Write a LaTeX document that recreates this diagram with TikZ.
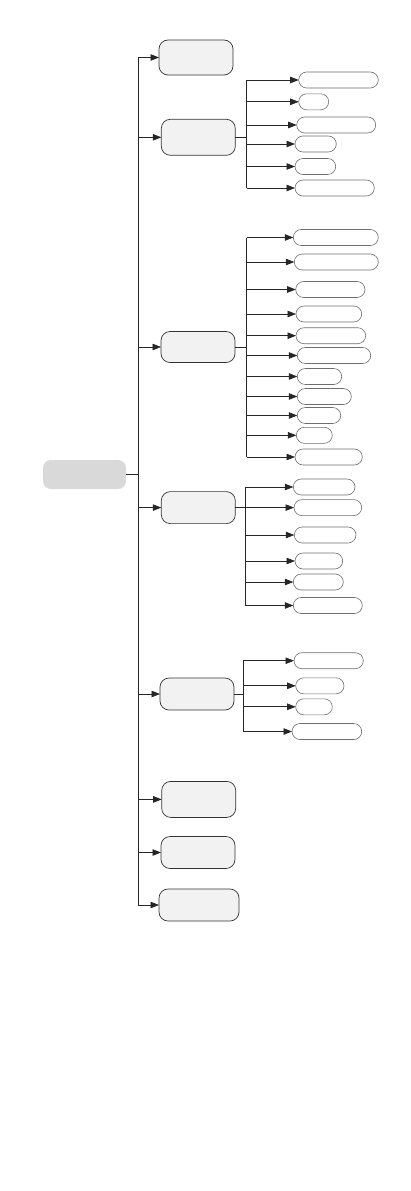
\documentclass[tikz,border=0pt]{standalone}
\usepackage{xcolor}
\usepackage{tikz}
\usetikzlibrary{arrows.meta,positioning,calc}
\definecolor{RootGray}{HTML}{D9D9D9}
\definecolor{BoxFill}{HTML}{F2F2F2}
\definecolor{Edge}{HTML}{333333}
\definecolor{LeafEdge}{HTML}{6E6E6E}

\begin{document}
\begin{tikzpicture}[x=1pt,y=-1pt,
    root/.style={fill=RootGray,rounded corners=8pt,minimum width=83pt,minimum height=29pt,inner sep=0pt,outer sep=0pt},
    b/.style={draw=Edge,fill=BoxFill,rounded corners=9pt,minimum width=74pt,minimum height=32pt,inner sep=0pt,outer sep=0pt,line width=0.7pt},
    leaf/.style={draw=LeafEdge,rounded corners=8pt,anchor=west,minimum height=16pt,inner sep=0pt,outer sep=0pt,line width=0.6pt},
    ln/.style={draw=black!85,line width=0.7pt},
    a/.style={ln,-{Triangle[length=8.5pt,width=6.5pt]}}]
  \useasboundingbox (0,0) rectangle (411,1191);
  \node[root] (root) at (84.5,474.5) {};
  % first level
  \node[b,minimum height=35pt] (b1) at (196,57.5) {};
  \node[b,minimum height=36pt] (b2) at (198.3,137.3) {};
  \node[b,minimum height=31pt] (b3) at (198,347) {};
  \node[b] (b4) at (198.3,507.6) {};
  \node[b] (b5) at (197,694) {};
  \node[b,minimum height=36pt] (b6) at (198.7,799.4) {};
  \node[b] (b7) at (198,852.5) {};
  \node[b,minimum width=80pt] (b8) at (199,905) {};
  \coordinate (trunk) at (138,0);
  \draw[ln] (root.east) -- (trunk |- root.east);
  \draw[ln] (trunk |- b1.west) -- (trunk |- b8.west);
  \foreach \n in {1,...,8} \draw[a] (trunk |- b\n.west) -- (b\n.west);
  % second level
  \foreach \x/\y/\w [count=\i] in {298.7/80/79.6, 298.7/101.8/30, 296.7/125/79, 295/144/41.3, 295/166.5/40.7, 295/188/79.3}
    \node[leaf,minimum width=\w pt] (c2-\i) at (\x,\y) {};
  \foreach \x/\y/\w [count=\i] in {293.3/237.5/85, 294.3/262/84, 295.7/289.5/69.3, 296/314/65.7, 296/335.7/69.7, 297.3/355.5/73.4,
      297.3/376.5/44.4, 297.3/396.5/54, 297.3/415.5/43.4, 296.3/435.3/36, 295/457/67.3}
    \node[leaf,minimum width=\w pt] (c3-\i) at (\x,\y) {};
  \foreach \x/\y/\w [count=\i] in {293.3/487/61.7, 294/507.6/67.7, 294.3/535/61.7, 295/561/47.7, 293.3/582/50, 293.3/605.5/69}
    \node[leaf,minimum width=\w pt] (c4-\i) at (\x,\y) {};
  \foreach \x/\y/\w [count=\i] in {294/660.7/69.3, 295.7/685.8/48.3, 295.7/706.8/36.6, 292/731.5/69.7}
    \node[leaf,minimum width=\w pt] (c5-\i) at (\x,\y) {};
  \coordinate (j2) at (246.7,0);
  \coordinate (j3) at (246.7,0);
  \coordinate (j4) at (245,0);
  \coordinate (j5) at (243.3,0);
  \draw[ln] (b2.east) -- (j2 |- b2.east);
  \draw[ln] (j2 |- c2-1.west) -- (j2 |- c2-6.west);
  \foreach \i in {1,...,6} \draw[a] (j2 |- c2-\i.west) -- (c2-\i.west);
  \draw[ln] (b3.east) -- (j3 |- b3.east);
  \draw[ln] (j3 |- c3-1.west) -- (j3 |- c3-11.west);
  \foreach \i in {1,...,11} \draw[a] (j3 |- c3-\i.west) -- (c3-\i.west);
  \draw[ln] (b4.east) -- (j4 |- b4.east);
  \draw[ln] (j4 |- c4-1.west) -- (j4 |- c4-6.west);
  \foreach \i in {1,...,6} \draw[a] (j4 |- c4-\i.west) -- (c4-\i.west);
  \draw[ln] (b5.east) -- (j5 |- b5.east);
  \draw[ln] (j5 |- c5-1.west) -- (j5 |- c5-4.west);
  \foreach \i in {1,...,4} \draw[a] (j5 |- c5-\i.west) -- (c5-\i.west);
\end{tikzpicture}
\end{document}
